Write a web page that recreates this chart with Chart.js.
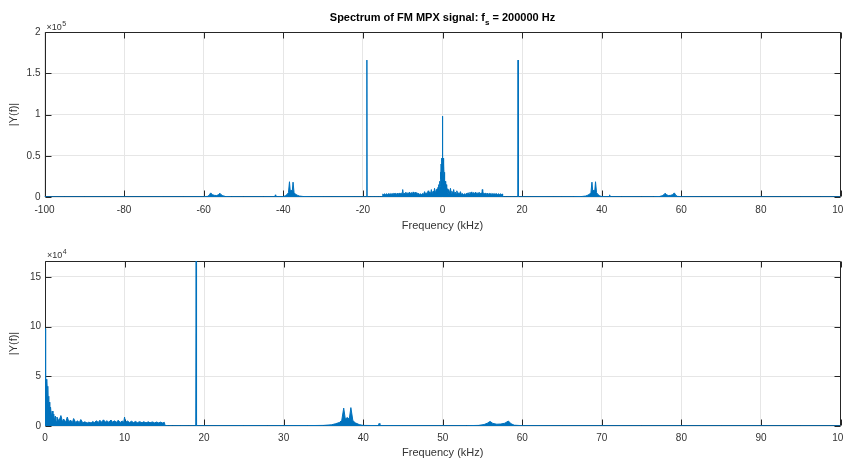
<!DOCTYPE html>
<html>
<head>
<meta charset="utf-8">
<script src="https://cdn.jsdelivr.net/npm/chart.js@4.4.1/dist/chart.umd.min.js"></script>
<style>
  html, body { margin: 0; padding: 0; background: #fff; }
  #wrap { position: relative; width: 843px; height: 462px; overflow: hidden; background: #fff; }
  canvas { position: absolute; left: 0; }
  #topPlot { top: 0; }
  #bottomPlot { top: 240px; }
</style>
</head>
<body>
<div id="wrap">
  <canvas id="topPlot" width="880" height="240"></canvas>
  <canvas id="bottomPlot" width="880" height="222"></canvas>
</div>
<script>
// One-sided magnitude spectrum |Y(f)| of the FM multiplex baseband (frequency in kHz)
const freqKHz = [
  0, 0.04, 0.08, 0.12, 0.16, 0.2, 0.25, 0.3, 0.35, 0.4, 0.45, 0.5, 0.55, 0.6, 0.7, 0.8, 0.9, 1.0, 1.1, 1.2, 1.3, 1.4, 1.5,
  1.75, 2.0, 2.2, 2.35, 2.6, 2.8, 3.0, 3.2, 3.45, 3.6, 3.85, 4.1, 4.3, 4.5, 4.75, 5.0, 5.3, 5.5, 5.8, 6.0,
  6.2, 6.45, 6.7, 6.9, 7.1, 7.35, 7.6, 7.8, 8.0, 8.3, 8.5, 8.7, 9.0, 9.2, 9.45, 9.7, 9.9, 10.0, 10.1,
  10.4, 10.6, 10.9, 11.1, 11.4, 11.6, 11.9, 12.2, 12.4, 12.7, 13.0, 13.2, 13.5, 13.8, 14.0, 14.3, 14.5, 14.8, 15.0,
  15.1, 15.5, 16, 17, 18, 18.95, 19.0, 19.05, 20, 22, 25, 28, 30, 33, 35,
  36, 36.5, 37, 37.3, 37.55, 37.75, 38.0, 38.25, 38.45, 38.7, 39.0, 39.5, 40,
  41.9, 42.0, 42.1, 45, 50, 53,
  54.5, 55.2, 55.6, 55.95, 56.3, 56.8, 57.3, 57.8, 58.25, 58.6, 59.0, 60,
  65, 70, 75, 80, 85, 90, 95, 100
];
const magnitude = [
  98000, 52000, 70000, 44000, 47000, 38000, 45000, 30000, 40000, 22000, 30000, 16000, 24000, 13000, 19000, 9000, 15000, 7000, 12000, 5500, 10000, 4500, 9000,
  5000, 10500, 4200, 7000, 3800, 9000, 4000, 6000, 3600, 7500, 3500, 5200, 3300, 6500, 3200, 4200, 3000, 3800, 3100, 4500,
  3400, 5200, 3600, 5800, 3800, 6200, 3900, 5400, 3800, 6000, 3700, 5200, 3700, 5800, 3600, 5000, 3800, 9000, 3700,
  5000, 3500, 4800, 3400, 4600, 3300, 4400, 3300, 4300, 3200, 4200, 3200, 4100, 3100, 4000, 3100, 3900, 3000, 3700,
  500, 350, 250, 300, 250, 300, 166000, 300, 250, 300, 350, 300, 350, 400, 600,
  1200, 2200, 3500, 5500, 18000, 7000, 8500, 7000, 18500, 5500, 3200, 1400, 600,
  400, 2600, 400, 350, 300, 350,
  600, 1500, 2800, 4600, 2600, 1800, 2000, 2800, 5000, 2200, 800, 350,
  250, 250, 200, 200, 200, 180, 180, 180
];

// Axis ticks and limits
const topXTicks = [-100, -80, -60, -40, -20, 0, 20, 40, 60, 80, 100];
const topYTicks = [0, 50000, 100000, 150000, 200000];
const bottomXTicks = [0, 10, 20, 30, 40, 50, 60, 70, 80, 90, 100];
const bottomYTicks = [0, 50000, 100000, 150000];
const topYMax = 200000;
const bottomYMax = 166000;

// Text
const titleMain = 'Spectrum of FM MPX signal: f';
const titleSub = 's';
const titleTail = ' = 200000 Hz';
const xLabel = 'Frequency (kHz)';
const yLabel = '|Y(f)|';

const BLUE = '#0072BD';
const AXIS = '#262626';
const GRID = '#e6e6e6';
const TEXT = '#333333';
const FONT = '"Liberation Sans", Arial, Helvetica, sans-serif';
Chart.defaults.font.family = FONT;

// One-sided points, and the two-sided mirror of them
const oneSided = freqKHz.map((f, i) => ({ x: f, y: magnitude[i] }));
const twoSided = freqKHz.slice(1).reverse().map((f, i) => ({ x: -f, y: magnitude[freqKHz.length - 1 - i] }))
  .concat(oneSided);

// Box with inward ticks on all four sides, drawn under the data
const boxAxes = {
  id: 'boxAxes',
  beforeDatasetsDraw(chart) {
    const { ctx, chartArea, scales } = chart;
    const L = Math.round(chartArea.left) + 0.5;
    const R = Math.round(chartArea.right) - 0.5;
    const T = Math.round(chartArea.top) + 0.5;
    const B = Math.round(chartArea.bottom) - 0.5;
    const len = 6;
    ctx.save();
    ctx.strokeStyle = AXIS;
    ctx.lineWidth = 1;
    ctx.beginPath();
    ctx.rect(L, T, R - L, B - T);
    scales.x.ticks.forEach(t => {
      const px = Math.round(scales.x.getPixelForValue(t.value)) + 0.5;
      ctx.moveTo(px, B); ctx.lineTo(px, B - len);
      ctx.moveTo(px, T); ctx.lineTo(px, T + len);
    });
    scales.y.ticks.forEach(t => {
      const py = Math.round(scales.y.getPixelForValue(t.value)) + 0.5;
      ctx.moveTo(L, py); ctx.lineTo(L + len, py);
      ctx.moveTo(R, py); ctx.lineTo(R - len, py);
    });
    ctx.stroke();
    ctx.restore();
  }
};

// Exponent label above the y axis and the optional title
const annotations = {
  id: 'annotations',
  afterDraw(chart, args, opts) {
    const { ctx, chartArea } = chart;
    ctx.save();
    ctx.fillStyle = TEXT;
    ctx.textBaseline = 'alphabetic';
    ctx.textAlign = 'left';
    let x = chartArea.left + 2;
    ctx.font = '9px ' + FONT;
    ctx.fillText('\u00d710', x, opts.expY);
    x += ctx.measureText('\u00d710').width + 0.5;
    ctx.font = '7px ' + FONT;
    ctx.fillText(opts.exponent, x, opts.expY - 4);
    if (opts.title) {
      ctx.fillStyle = '#000';
      ctx.font = 'bold 11px ' + FONT;
      const w1 = ctx.measureText(titleMain).width;
      const w3 = ctx.measureText(titleTail).width;
      ctx.font = 'bold 8px ' + FONT;
      const w2 = ctx.measureText(titleSub).width;
      const cx = (chartArea.left + chartArea.right) / 2;
      let tx = cx - (w1 + w2 + w3) / 2;
      ctx.font = 'bold 11px ' + FONT;
      ctx.fillText(titleMain, tx, 21);
      tx += w1;
      ctx.font = 'bold 8px ' + FONT;
      ctx.fillText(titleSub, tx, 25);
      tx += w2;
      ctx.font = 'bold 11px ' + FONT;
      ctx.fillText(titleTail, tx, 21);
    }
    ctx.restore();
  }
};

function makeChart(canvas, points, xMin, xMax, xTicks, yMax, yTicks, yDiv, geom, annot) {
  return new Chart(canvas, {
    type: 'line',
    data: {
      datasets: [{
        data: points,
        borderColor: BLUE,
        backgroundColor: BLUE,
        borderWidth: 1,
        fill: 'origin',
        pointRadius: 0,
        tension: 0
      }]
    },
    options: {
      responsive: false,
      animation: false,
      devicePixelRatio: 1,
      events: [],
      layout: { padding: { top: geom.top, right: canvas.width - geom.right, left: 0, bottom: 0 } },
      plugins: {
        legend: { display: false },
        title: { display: false },
        tooltip: { enabled: false },
        annotations: annot
      },
      scales: {
        x: {
          type: 'linear',
          min: xMin,
          max: xMax,
          afterBuildTicks: s => { s.ticks = xTicks.map(v => ({ value: v })); },
          afterFit: s => { s.height = canvas.height - geom.bottom; },
          grid: { color: GRID, drawTicks: false, lineWidth: 1 },
          border: { display: false },
          ticks: {
            padding: geom.xTickPad, color: TEXT, font: { size: 10 },
            maxRotation: 0, autoSkip: false,
            callback: v => String(v)
          },
          title: {
            display: true, text: xLabel, color: TEXT, font: { size: 11 },
            padding: { top: 0, bottom: geom.xTitlePad }
          }
        },
        y: {
          min: 0,
          max: yMax,
          afterBuildTicks: s => { s.ticks = yTicks.map(v => ({ value: v })); },
          afterFit: s => { s.width = geom.left; },
          grid: { color: GRID, drawTicks: false, lineWidth: 1 },
          border: { display: false },
          ticks: {
            padding: 4, color: TEXT, font: { size: 10 },
            callback: v => String(v / yDiv)
          },
          title: {
            display: true, text: yLabel, color: TEXT, font: { size: 11 },
            padding: { top: geom.yTitlePad, bottom: 0 }
          }
        }
      }
    },
    plugins: [boxAxes, annotations]
  });
}

makeChart(document.getElementById('topPlot'), twoSided, -100, 100, topXTicks, topYMax, topYTicks, 100000,
  { top: 32, bottom: 197, left: 44.5, right: 840.5, xTickPad: 7, xTitlePad: 7, yTitlePad: 7 },
  { exponent: '5', expY: 30, title: true });

makeChart(document.getElementById('bottomPlot'), oneSided, 0, 100, bottomXTicks, bottomYMax, bottomYTicks, 10000,
  { top: 21, bottom: 186, left: 45, right: 840.5, xTickPad: 6, xTitlePad: 2, yTitlePad: 7 },
  { exponent: '4', expY: 18, title: false });
</script>
</body>
</html>
